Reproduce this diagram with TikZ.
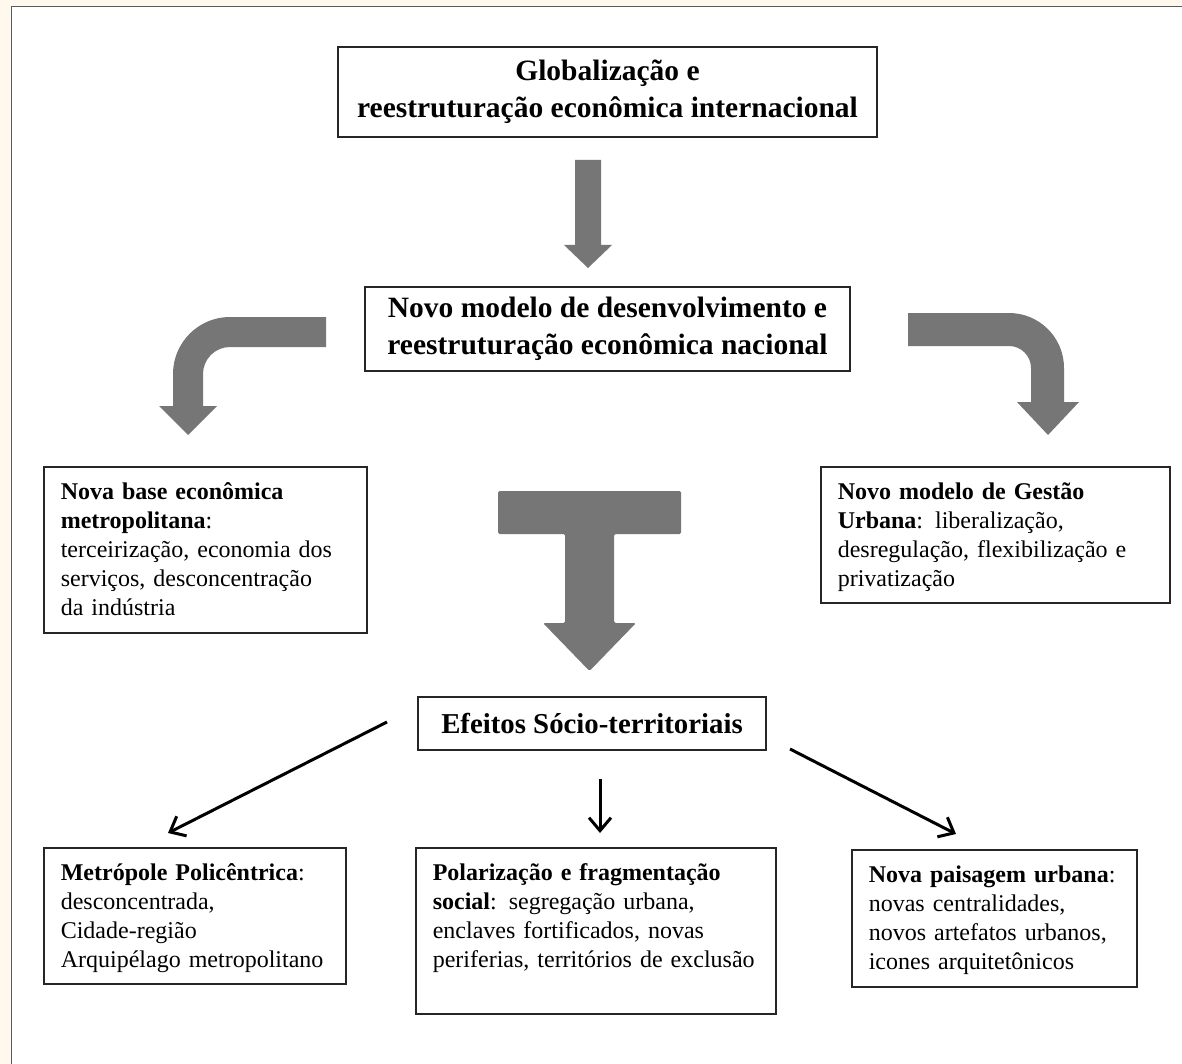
\documentclass[tikz,border=0pt]{standalone}
\usepackage{fontspec}
\setmainfont{Liberation Serif}
\usetikzlibrary{arrows.meta}
\definecolor{paper}{RGB}{255,248,236}
\definecolor{blockgray}{RGB}{118,118,118}
\definecolor{framegray}{RGB}{90,90,90}
\begin{document}
\begin{tikzpicture}[x=1pt,y=-1pt,
		box/.style={draw=black!85,line width=1.6pt,fill=white},
		headbox/.style={box,font=\fontsize{29.5}{37}\selectfont\bfseries,align=center,inner sep=0pt},
		txtbox/.style={box,font=\fontsize{24}{29}\selectfont,align=left,anchor=north west,
			inner xsep=17pt,inner ysep=14.5pt,text height=18pt},
		thin/.style={line width=3pt,-{Straight Barb[length=13pt,width=22pt]}},
		block/.style={fill=blockgray,draw=none}]
		\useasboundingbox (0,0) rectangle (1182,1064);
		\fill[paper] (0,0) rectangle (1182,1064);
		\fill[white] (11.5,6.5) rectangle (1182,1064);
		\draw[framegray,line width=1.6pt] (11.5,1064) -- (11.5,6.5) -- (1182,6.5);
		% boxes
		\node[headbox,minimum width=539pt,minimum height=90pt] (glob) at (607.5,92) {Globalização e\\reestruturação econômica internacional};
		\node[headbox,minimum width=485pt,minimum height=84pt] (novo) at (607.5,329) {Novo modelo de desenvolvimento e\\reestruturação econômica nacional};
		\node[txtbox,text width=289pt,text depth=119pt] (base) at (43,466) {\textbf{Nova base econômica}\\\textbf{metropolitana}:\\terceirização, economia dos\\serviços, desconcentração\\da indústria};
		\node[txtbox,text width=315pt,text depth=89pt] (gestao) at (820,466) {\textbf{Novo modelo de Gestão}\\\textbf{Urbana}: liberalização,\\desregulação, flexibilização e\\privatização};
		\node[headbox,font=\fontsize{28.8}{36}\selectfont\bfseries,minimum width=348pt,minimum height=53pt] (efeitos) at (592,723.5) {Efeitos Sócio-territoriais};
		\node[txtbox,text width=268pt,text depth=89pt] (metro) at (43,847) {\textbf{Metrópole Policêntrica}:\\desconcentrada,\\Cidade-região\\Arquipélago metropolitano};
		\node[txtbox,text width=326pt,text depth=119pt] (polar) at (415,847) {\textbf{Polarização e fragmentação}\\\textbf{social}: segregação urbana,\\enclaves fortificados, novas\\periferias, territórios de exclusão};
		\node[txtbox,text width=251pt,text depth=90pt] (paisagem) at (851,849) {\textbf{Nova paisagem urbana}:\\novas centralidades,\\novos artefatos urbanos,\\icones arquitetônicos};
		% block arrows
		\fill[block] (575,160) -- (601,160) -- (601,245) -- (612,245) -- (588,268) -- (564,245) -- (575,245) -- cycle;
		\fill[block] (326,317) -- (230,317) arc[start angle=270,end angle=180,radius=57] -- (173,406) -- (159,406) -- (188,435) -- (217,406) -- (203,406) -- (203,374) arc[start angle=180,end angle=270,radius=27] -- (326,347) -- cycle;
		\fill[block] (908,313) -- (1009,313) arc[start angle=270,end angle=360,radius=55] -- (1064,402) -- (1079,402) -- (1048,435) -- (1017,402) -- (1031,402) -- (1031,368) arc[start angle=0,end angle=-90,radius=22] -- (908,346) -- cycle;
		\fill[block,rounded corners=1.5pt] (498,491) -- (681,491) -- (681,534) -- (614,534) -- (614,623) -- (636,623) -- (589.5,671) -- (543,623) -- (565,623) -- (565,534) -- (498,534) -- cycle;
		% thin arrows
		\coordinate (efL) at (387,722);
		\coordinate (efM) at (600,779);
		\coordinate (efR) at (790,749);
		\coordinate (metT) at (168,833);
		\coordinate (polT) at (600,833);
		\coordinate (paiT) at (956,834);
		\draw[thin] (efL) -- (metT);
		\draw[thin] (efM) -- (polT);
		\draw[thin] (efR) -- (paiT);
	\end{tikzpicture}
\end{document}
